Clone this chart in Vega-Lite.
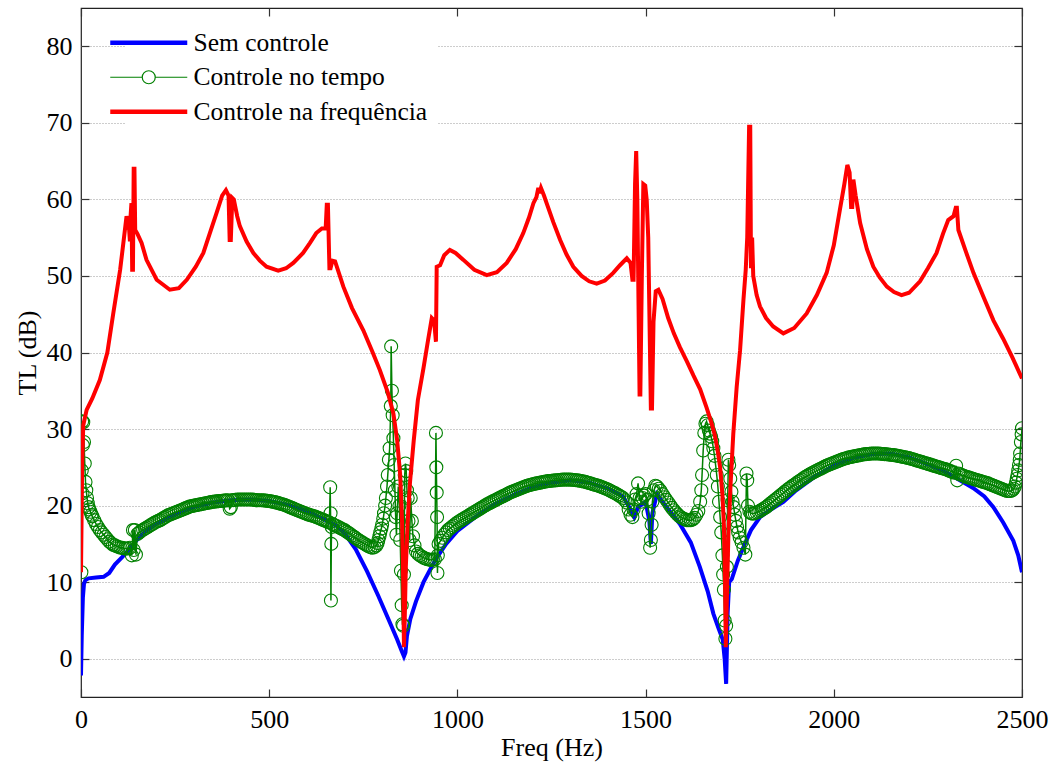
{
"$schema": "https://vega.github.io/schema/vega-lite/v6.json",
"width": 941, "height": 689,
"autosize": {"type": "none"},
"padding": {"left": 81, "top": 8, "right": 30, "bottom": 68},
"background": "white",
"config": {
  "view": {"stroke": "#222", "strokeWidth": 1.2},
  "font": "'Liberation Serif', 'DejaVu Serif', serif",
  "text": {"font": "'Liberation Serif', 'DejaVu Serif', serif"},
  "legend": {"labelFont": "'Liberation Serif', 'DejaVu Serif', serif"},
  "axis": {"labelFont": "'Liberation Serif', 'DejaVu Serif', serif", "titleFont": "'Liberation Serif', 'DejaVu Serif', serif", "labelFontSize": 26, "titleFontSize": 26, "labelColor": "black", "titleColor": "black", "titleFontWeight": "normal", "domain": false, "tickColor": "#333", "tickSize": -8, "tickWidth": 1.2, "labelFlush": false}
},
"datasets": {
"blue": [
{"f":0,"v":-2.2},{"f":2,"v":3},{"f":5,"v":8},{"f":8,"v":9.8},{"f":12,"v":10.3},{"f":20,"v":10.5},{"f":40,"v":10.6},{"f":60,"v":10.7},{"f":75,"v":11.2},{"f":90,"v":12.3},{"f":110,"v":13.3},{"f":130,"v":14.4},{"f":150,"v":15.6},{"f":170,"v":16.6},{"f":200,"v":17.6},{"f":250,"v":18.8},{"f":300,"v":19.8},{"f":350,"v":20.4},{"f":400,"v":20.7},{"f":450,"v":20.8},{"f":500,"v":20.6},{"f":550,"v":20.1},{"f":600,"v":19.3},{"f":650,"v":18.1},{"f":680,"v":17.3},{"f":700,"v":16.4},{"f":730,"v":14.3},{"f":760,"v":11.4},{"f":790,"v":8.2},{"f":820,"v":4.8},{"f":840,"v":2.5},{"f":852,"v":1.0},{"f":858,"v":0.3},{"f":862,"v":0.8},{"f":866,"v":3.0},{"f":875,"v":5.2},{"f":890,"v":7.5},{"f":910,"v":10.0},{"f":940,"v":12.8},{"f":970,"v":15},{"f":1000,"v":16.7},{"f":1050,"v":18.6},{"f":1100,"v":20.2},{"f":1150,"v":21.4},{"f":1200,"v":22.4},{"f":1250,"v":23.0},{"f":1300,"v":23.3},{"f":1350,"v":23.0},{"f":1400,"v":22.2},{"f":1440,"v":21.2},{"f":1460,"v":19.5},{"f":1470,"v":18.5},{"f":1480,"v":19.8},{"f":1500,"v":20.5},{"f":1510,"v":18},{"f":1514,"v":15},{"f":1518,"v":19},{"f":1530,"v":21.5},{"f":1556,"v":19.8},{"f":1591,"v":17.6},{"f":1620,"v":15.2},{"f":1644,"v":12},{"f":1665,"v":8.8},{"f":1680,"v":5.9},{"f":1695,"v":3.8},{"f":1705,"v":2.5},{"f":1710,"v":0},{"f":1714,"v":-3.3},{"f":1718,"v":6},{"f":1722,"v":10},{"f":1729,"v":10.4},{"f":1745,"v":12.8},{"f":1760,"v":14.6},{"f":1780,"v":16.8},{"f":1804,"v":18.5},{"f":1830,"v":19.4},{"f":1866,"v":20.5},{"f":1900,"v":22},{"f":1950,"v":23.8},{"f":2000,"v":25.2},{"f":2050,"v":26.2},{"f":2100,"v":26.7},{"f":2150,"v":26.8},{"f":2200,"v":26.3},{"f":2250,"v":25.4},{"f":2300,"v":24.3},{"f":2335,"v":23.3},{"f":2370,"v":22.3},{"f":2400,"v":21.2},{"f":2424,"v":19.8},{"f":2450,"v":17.8},{"f":2477,"v":15.4},{"f":2490,"v":13.5},{"f":2500,"v":11.3}
],
"green": [
{"f":1,"v":11.3},{"f":2,"v":24.6},{"f":3,"v":31},{"f":4,"v":21.6},{"f":5,"v":27.9},{"f":6,"v":30.9},{"f":8,"v":28.3},{"f":10,"v":25.5},{"f":12,"v":23.1},{"f":14,"v":22},{"f":16,"v":21},{"f":18,"v":20.3},{"f":20,"v":19.8},{"f":22,"v":19.5},{"f":25,"v":19.2},{"f":28,"v":18.8},{"f":30,"v":18.6},{"f":35,"v":18.1},{"f":40,"v":17.6},{"f":45,"v":17.2},{"f":50,"v":16.8},{"f":55,"v":16.5},{"f":60,"v":16.2},{"f":65,"v":15.9},{"f":70,"v":15.6},{"f":75,"v":15.3},{"f":80,"v":15.1},{"f":85,"v":14.9},{"f":90,"v":14.8},{"f":95,"v":14.7},{"f":100,"v":14.6},{"f":105,"v":14.5},{"f":110,"v":14.5},{"f":115,"v":14.4},{"f":120,"v":14.4},{"f":125,"v":14.4},{"f":130,"v":14.5},{"f":135,"v":13.5},{"f":138,"v":16.8},{"f":140,"v":14.2},{"f":143,"v":16.8},{"f":146,"v":13.6},{"f":150,"v":16.3},{"f":155,"v":16.5},{"f":160,"v":16.7},{"f":165,"v":16.85},{"f":170,"v":17},{"f":175,"v":17.15},{"f":180,"v":17.3},{"f":185,"v":17.45},{"f":190,"v":17.6},{"f":195,"v":17.75},{"f":200,"v":17.9},{"f":205,"v":18.0},{"f":210,"v":18.1},{"f":215,"v":18.25},{"f":220,"v":18.4},{"f":225,"v":18.55},{"f":230,"v":18.7},{"f":235,"v":18.8},{"f":240,"v":18.9},{"f":245,"v":19.0},{"f":250,"v":19.1},{"f":255,"v":19.2},{"f":260,"v":19.3},{"f":265,"v":19.4},{"f":270,"v":19.5},{"f":275,"v":19.6},{"f":280,"v":19.7},{"f":285,"v":19.8},{"f":290,"v":19.9},{"f":295,"v":19.95},{"f":300,"v":20},{"f":305,"v":20.05},{"f":310,"v":20.1},{"f":315,"v":20.15},{"f":320,"v":20.2},{"f":325,"v":20.25},{"f":330,"v":20.3},{"f":335,"v":20.35},{"f":340,"v":20.4},{"f":345,"v":20.45},{"f":350,"v":20.5},{"f":355,"v":20.52},{"f":360,"v":20.55},{"f":365,"v":20.58},{"f":370,"v":20.6},{"f":375,"v":20.62},{"f":380,"v":20.65},{"f":385,"v":20.68},{"f":390,"v":20.7},{"f":395,"v":19.6},{"f":398,"v":19.8},{"f":400,"v":20.7},{"f":405,"v":20.72},{"f":410,"v":20.75},{"f":415,"v":20.78},{"f":420,"v":20.8},{"f":425,"v":20.8},{"f":430,"v":20.8},{"f":435,"v":20.8},{"f":440,"v":20.8},{"f":445,"v":20.8},{"f":450,"v":20.8},{"f":455,"v":20.78},{"f":460,"v":20.75},{"f":465,"v":20.72},{"f":470,"v":20.7},{"f":475,"v":20.7},{"f":480,"v":20.7},{"f":485,"v":20.68},{"f":490,"v":20.65},{"f":495,"v":20.62},{"f":500,"v":20.6},{"f":505,"v":20.55},{"f":510,"v":20.5},{"f":515,"v":20.45},{"f":520,"v":20.4},{"f":525,"v":20.32},{"f":530,"v":20.25},{"f":535,"v":20.17},{"f":540,"v":20.1},{"f":545,"v":20.0},{"f":550,"v":19.9},{"f":555,"v":19.8},{"f":560,"v":19.7},{"f":565,"v":19.6},{"f":570,"v":19.5},{"f":575,"v":19.4},{"f":580,"v":19.3},{"f":585,"v":19.2},{"f":590,"v":19.1},{"f":595,"v":19.0},{"f":600,"v":18.9},{"f":605,"v":18.82},{"f":610,"v":18.75},{"f":615,"v":18.68},{"f":620,"v":18.6},{"f":625,"v":18.5},{"f":630,"v":18.4},{"f":635,"v":18.3},{"f":640,"v":18.2},{"f":645,"v":18.1},{"f":650,"v":18},{"f":655,"v":17.9},{"f":660,"v":17.8},{"f":662,"v":22.4},{"f":663,"v":19},{"f":664,"v":7.6},{"f":665,"v":15},{"f":666,"v":17.2},{"f":668,"v":17.6},{"f":671,"v":17.5},{"f":675,"v":17.4},{"f":680,"v":17.3},{"f":685,"v":17.18},{"f":690,"v":17.05},{"f":695,"v":16.92},{"f":700,"v":16.8},{"f":705,"v":16.62},{"f":710,"v":16.45},{"f":715,"v":16.28},{"f":720,"v":16.1},{"f":725,"v":15.92},{"f":730,"v":15.75},{"f":735,"v":15.58},{"f":740,"v":15.4},{"f":745,"v":15.25},{"f":750,"v":15.1},{"f":755,"v":14.95},{"f":760,"v":14.8},{"f":765,"v":14.65},{"f":770,"v":14.55},{"f":775,"v":14.5},{"f":780,"v":14.6},{"f":785,"v":14.8},{"f":788,"v":15.1},{"f":790,"v":15.5},{"f":793,"v":16},{"f":795,"v":16.5},{"f":798,"v":17},{"f":800,"v":17.5},{"f":803,"v":18.3},{"f":805,"v":19},{"f":808,"v":20},{"f":810,"v":21},{"f":813,"v":22.5},{"f":815,"v":24},{"f":818,"v":26},{"f":820,"v":27.5},{"f":823,"v":33},{"f":824,"v":40.8},{"f":826,"v":35},{"f":828,"v":31.8},{"f":830,"v":28.8},{"f":832,"v":25.3},{"f":834,"v":22},{"f":836,"v":18.5},{"f":838,"v":16.2},{"f":840,"v":19},{"f":843,"v":22.5},{"f":846,"v":20},{"f":848,"v":15.5},{"f":850,"v":11.5},{"f":852,"v":7},{"f":854,"v":4.5},{"f":856,"v":4.3},{"f":858,"v":11},{"f":860,"v":24},{"f":862,"v":25.5},{"f":864,"v":24.5},{"f":866,"v":22},{"f":868,"v":21},{"f":870,"v":18},{"f":873,"v":15.5},{"f":876,"v":21},{"f":879,"v":18},{"f":882,"v":16},{"f":886,"v":14.8},{"f":890,"v":14},{"f":895,"v":13.7},{"f":900,"v":13.5},{"f":905,"v":13.35},{"f":910,"v":13.2},{"f":915,"v":13.1},{"f":920,"v":13},{"f":925,"v":12.95},{"f":930,"v":12.9},{"f":935,"v":12.95},{"f":940,"v":13},{"f":943,"v":29.5},{"f":944,"v":25},{"f":945,"v":21.7},{"f":946,"v":18.5},{"f":947,"v":11.2},{"f":948,"v":13.5},{"f":950,"v":15},{"f":955,"v":15.4},{"f":960,"v":15.8},{"f":965,"v":16.2},{"f":970,"v":16.5},{"f":975,"v":16.8},{"f":980,"v":17},{"f":985,"v":17.2},{"f":990,"v":17.4},{"f":995,"v":17.6},{"f":1000,"v":17.8},{"f":1005,"v":17.95},{"f":1010,"v":18.1},{"f":1015,"v":18.25},{"f":1020,"v":18.4},{"f":1025,"v":18.55},{"f":1030,"v":18.7},{"f":1035,"v":18.85},{"f":1040,"v":19},{"f":1045,"v":19.15},{"f":1050,"v":19.3},{"f":1055,"v":19.45},{"f":1060,"v":19.6},{"f":1065,"v":19.75},{"f":1070,"v":19.9},{"f":1075,"v":20.05},{"f":1080,"v":20.2},{"f":1085,"v":20.32},{"f":1090,"v":20.45},{"f":1095,"v":20.58},{"f":1100,"v":20.7},{"f":1105,"v":20.82},{"f":1110,"v":20.95},{"f":1115,"v":21.08},{"f":1120,"v":21.2},{"f":1125,"v":21.32},{"f":1130,"v":21.45},{"f":1135,"v":21.58},{"f":1140,"v":21.7},{"f":1145,"v":21.8},{"f":1150,"v":21.9},{"f":1155,"v":22.0},{"f":1160,"v":22.1},{"f":1165,"v":22.2},{"f":1170,"v":22.3},{"f":1175,"v":22.4},{"f":1180,"v":22.5},{"f":1185,"v":22.58},{"f":1190,"v":22.65},{"f":1195,"v":22.72},{"f":1200,"v":22.8},{"f":1205,"v":22.85},{"f":1210,"v":22.9},{"f":1215,"v":22.95},{"f":1220,"v":23.0},{"f":1225,"v":23.05},{"f":1230,"v":23.1},{"f":1235,"v":23.15},{"f":1240,"v":23.2},{"f":1245,"v":23.22},{"f":1250,"v":23.25},{"f":1255,"v":23.28},{"f":1260,"v":23.3},{"f":1265,"v":23.32},{"f":1270,"v":23.35},{"f":1275,"v":23.38},{"f":1280,"v":23.4},{"f":1285,"v":23.4},{"f":1290,"v":23.4},{"f":1295,"v":23.4},{"f":1300,"v":23.4},{"f":1305,"v":23.38},{"f":1310,"v":23.35},{"f":1315,"v":23.32},{"f":1320,"v":23.3},{"f":1325,"v":23.25},{"f":1330,"v":23.2},{"f":1335,"v":23.15},{"f":1340,"v":23.1},{"f":1345,"v":23.02},{"f":1350,"v":22.95},{"f":1355,"v":22.88},{"f":1360,"v":22.8},{"f":1365,"v":22.72},{"f":1370,"v":22.65},{"f":1375,"v":22.58},{"f":1380,"v":22.5},{"f":1385,"v":22.4},{"f":1390,"v":22.3},{"f":1395,"v":22.2},{"f":1400,"v":22.1},{"f":1405,"v":21.98},{"f":1410,"v":21.85},{"f":1415,"v":21.72},{"f":1420,"v":21.6},{"f":1425,"v":21.45},{"f":1430,"v":21.3},{"f":1435,"v":21.15},{"f":1440,"v":21.0},{"f":1445,"v":20.7},{"f":1450,"v":20.4},{"f":1455,"v":19.5},{"f":1460,"v":18.8},{"f":1465,"v":18.5},{"f":1468,"v":19.5},{"f":1472,"v":20.8},{"f":1476,"v":21.5},{"f":1480,"v":22.9},{"f":1484,"v":21},{"f":1488,"v":20.5},{"f":1492,"v":21},{"f":1496,"v":21.3},{"f":1500,"v":21.5},{"f":1505,"v":20.8},{"f":1508,"v":19},{"f":1512,"v":14.5},{"f":1514,"v":15.5},{"f":1516,"v":17.5},{"f":1518,"v":20.5},{"f":1522,"v":22},{"f":1526,"v":22.6},{"f":1530,"v":22.5},{"f":1535,"v":22.2},{"f":1540,"v":21.9},{"f":1545,"v":21.5},{"f":1550,"v":21.1},{"f":1555,"v":20.75},{"f":1560,"v":20.4},{"f":1565,"v":20.05},{"f":1570,"v":19.7},{"f":1575,"v":19.4},{"f":1580,"v":19.1},{"f":1585,"v":18.85},{"f":1590,"v":18.6},{"f":1595,"v":18.45},{"f":1600,"v":18.3},{"f":1605,"v":18.2},{"f":1610,"v":18.1},{"f":1615,"v":18.1},{"f":1620,"v":18.1},{"f":1625,"v":18.2},{"f":1630,"v":18.4},{"f":1635,"v":18.8},{"f":1640,"v":19.3},{"f":1645,"v":20.5},{"f":1648,"v":22},{"f":1650,"v":24},{"f":1653,"v":27.2},{"f":1656,"v":29.5},{"f":1659,"v":30.7},{"f":1662,"v":31},{"f":1665,"v":30.5},{"f":1668,"v":29.8},{"f":1671,"v":29.4},{"f":1674,"v":29},{"f":1677,"v":28.4},{"f":1680,"v":27.5},{"f":1683,"v":26.5},{"f":1686,"v":25.3},{"f":1689,"v":24},{"f":1692,"v":22.5},{"f":1695,"v":20.5},{"f":1698,"v":18.5},{"f":1701,"v":16.5},{"f":1704,"v":13.5},{"f":1706,"v":11},{"f":1708,"v":9},{"f":1710,"v":5},{"f":1712,"v":2.6},{"f":1714,"v":4.3},{"f":1716,"v":12},{"f":1718,"v":20.7},{"f":1720,"v":26},{"f":1722,"v":25.3},{"f":1725,"v":23.5},{"f":1728,"v":21.8},{"f":1731,"v":20.5},{"f":1734,"v":19.8},{"f":1737,"v":18.8},{"f":1740,"v":18},{"f":1743,"v":17.2},{"f":1746,"v":16.5},{"f":1750,"v":15.8},{"f":1755,"v":15.2},{"f":1760,"v":14.5},{"f":1765,"v":13.6},{"f":1768,"v":24.2},{"f":1770,"v":23.3},{"f":1772,"v":20},{"f":1776,"v":19.2},{"f":1780,"v":19},{"f":1785,"v":18.95},{"f":1790,"v":19},{"f":1795,"v":19.1},{"f":1800,"v":19.2},{"f":1805,"v":19.35},{"f":1810,"v":19.5},{"f":1815,"v":19.65},{"f":1820,"v":19.8},{"f":1825,"v":20.0},{"f":1830,"v":20.2},{"f":1835,"v":20.4},{"f":1840,"v":20.6},{"f":1845,"v":20.8},{"f":1850,"v":21},{"f":1855,"v":21.2},{"f":1860,"v":21.4},{"f":1865,"v":21.6},{"f":1870,"v":21.8},{"f":1875,"v":22.0},{"f":1880,"v":22.2},{"f":1885,"v":22.38},{"f":1890,"v":22.55},{"f":1895,"v":22.72},{"f":1900,"v":22.9},{"f":1905,"v":23.08},{"f":1910,"v":23.25},{"f":1915,"v":23.42},{"f":1920,"v":23.6},{"f":1925,"v":23.75},{"f":1930,"v":23.9},{"f":1935,"v":24.05},{"f":1940,"v":24.2},{"f":1945,"v":24.32},{"f":1950,"v":24.45},{"f":1955,"v":24.58},{"f":1960,"v":24.7},{"f":1965,"v":24.82},{"f":1970,"v":24.95},{"f":1975,"v":25.08},{"f":1980,"v":25.2},{"f":1985,"v":25.3},{"f":1990,"v":25.4},{"f":1995,"v":25.5},{"f":2000,"v":25.6},{"f":2005,"v":25.7},{"f":2010,"v":25.8},{"f":2015,"v":25.9},{"f":2020,"v":26},{"f":2025,"v":26.08},{"f":2030,"v":26.15},{"f":2035,"v":26.22},{"f":2040,"v":26.3},{"f":2045,"v":26.35},{"f":2050,"v":26.4},{"f":2055,"v":26.45},{"f":2060,"v":26.5},{"f":2065,"v":26.55},{"f":2070,"v":26.6},{"f":2075,"v":26.65},{"f":2080,"v":26.7},{"f":2085,"v":26.72},{"f":2090,"v":26.75},{"f":2095,"v":26.78},{"f":2100,"v":26.8},{"f":2105,"v":26.8},{"f":2110,"v":26.8},{"f":2115,"v":26.8},{"f":2120,"v":26.8},{"f":2125,"v":26.78},{"f":2130,"v":26.75},{"f":2135,"v":26.72},{"f":2140,"v":26.7},{"f":2145,"v":26.68},{"f":2150,"v":26.65},{"f":2155,"v":26.62},{"f":2160,"v":26.6},{"f":2165,"v":26.55},{"f":2170,"v":26.5},{"f":2175,"v":26.45},{"f":2180,"v":26.4},{"f":2185,"v":26.35},{"f":2190,"v":26.3},{"f":2195,"v":26.25},{"f":2200,"v":26.2},{"f":2205,"v":26.12},{"f":2210,"v":26.05},{"f":2215,"v":25.98},{"f":2220,"v":25.9},{"f":2225,"v":25.82},{"f":2230,"v":25.75},{"f":2235,"v":25.68},{"f":2240,"v":25.6},{"f":2245,"v":25.52},{"f":2250,"v":25.45},{"f":2255,"v":25.38},{"f":2260,"v":25.3},{"f":2265,"v":25.22},{"f":2270,"v":25.15},{"f":2275,"v":25.08},{"f":2280,"v":25},{"f":2285,"v":24.92},{"f":2290,"v":24.85},{"f":2295,"v":24.78},{"f":2300,"v":24.7},{"f":2305,"v":24.6},{"f":2310,"v":24.5},{"f":2315,"v":24.4},{"f":2320,"v":24.3},{"f":2325,"v":25.2},{"f":2328,"v":23.3},{"f":2331,"v":24.2},{"f":2335,"v":24.1},{"f":2340,"v":24},{"f":2345,"v":23.9},{"f":2350,"v":23.8},{"f":2355,"v":23.72},{"f":2360,"v":23.65},{"f":2365,"v":23.58},{"f":2370,"v":23.5},{"f":2375,"v":23.42},{"f":2380,"v":23.35},{"f":2385,"v":23.28},{"f":2390,"v":23.2},{"f":2395,"v":23.12},{"f":2400,"v":23.05},{"f":2405,"v":22.98},{"f":2410,"v":22.9},{"f":2415,"v":22.8},{"f":2420,"v":22.7},{"f":2425,"v":22.6},{"f":2430,"v":22.5},{"f":2435,"v":22.4},{"f":2440,"v":22.3},{"f":2445,"v":22.2},{"f":2450,"v":22.1},{"f":2455,"v":22},{"f":2460,"v":21.9},{"f":2465,"v":21.9},{"f":2470,"v":21.9},{"f":2474,"v":22},{"f":2478,"v":22.2},{"f":2481,"v":22.5},{"f":2484,"v":23},{"f":2486,"v":23.5},{"f":2488,"v":24},{"f":2490,"v":24.6},{"f":2492,"v":25.3},{"f":2494,"v":26},{"f":2495,"v":26.8},{"f":2497,"v":28.3},{"f":2499,"v":29.3},{"f":2500,"v":30.1}
],
"red": [
{"f":0,"v":11.3},{"f":3,"v":25},{"f":6,"v":30.5},{"f":15,"v":32.5},{"f":30,"v":34},{"f":50,"v":36.4},{"f":70,"v":40},{"f":86,"v":45.2},{"f":104,"v":50.8},{"f":121,"v":57.8},{"f":128,"v":56},{"f":130,"v":54.5},{"f":132,"v":58},{"f":134,"v":59.5},{"f":136,"v":50.8},{"f":138,"v":50.8},{"f":140,"v":64},{"f":142,"v":64},{"f":144,"v":56},{"f":150,"v":55.5},{"f":161,"v":54.3},{"f":174,"v":52.1},{"f":201,"v":49.5},{"f":236,"v":48.2},{"f":260,"v":48.4},{"f":281,"v":49.5},{"f":305,"v":51.2},{"f":325,"v":53},{"f":345,"v":56},{"f":360,"v":58.2},{"f":375,"v":60.5},{"f":385,"v":61.2},{"f":392,"v":60.5},{"f":395,"v":54.7},{"f":398,"v":54.7},{"f":402,"v":60.2},{"f":406,"v":60},{"f":415,"v":57.8},{"f":422,"v":56.5},{"f":440,"v":54.5},{"f":458,"v":53},{"f":475,"v":52},{"f":493,"v":51.2},{"f":524,"v":50.7},{"f":545,"v":51},{"f":564,"v":51.7},{"f":590,"v":53},{"f":608,"v":54.3},{"f":625,"v":55.6},{"f":640,"v":56.2},{"f":650,"v":56.2},{"f":653,"v":59.3},{"f":656,"v":59.3},{"f":660,"v":51},{"f":663,"v":51},{"f":668,"v":52},{"f":675,"v":51.9},{"f":697,"v":48.6},{"f":720,"v":45.8},{"f":750,"v":42.9},{"f":775,"v":40},{"f":794,"v":37.7},{"f":815,"v":34.8},{"f":830,"v":32},{"f":840,"v":28.5},{"f":848,"v":24},{"f":853,"v":18},{"f":856,"v":10},{"f":858,"v":1.5},{"f":860,"v":5},{"f":863,"v":12},{"f":868,"v":18},{"f":874,"v":23},{"f":884,"v":28.5},{"f":895,"v":33.8},{"f":910,"v":38},{"f":922,"v":41.6},{"f":932,"v":44.5},{"f":938,"v":44.2},{"f":943,"v":41.4},{"f":945,"v":51.2},{"f":954,"v":51.4},{"f":965,"v":52.7},{"f":980,"v":53.4},{"f":995,"v":53},{"f":1016,"v":52.1},{"f":1045,"v":50.8},{"f":1078,"v":50.1},{"f":1105,"v":50.5},{"f":1131,"v":51.7},{"f":1155,"v":53.5},{"f":1175,"v":55.6},{"f":1190,"v":57.6},{"f":1202,"v":59.5},{"f":1210,"v":60.3},{"f":1215,"v":61.5},{"f":1218,"v":60.8},{"f":1222,"v":61.5},{"f":1230,"v":60.5},{"f":1237,"v":59.5},{"f":1255,"v":57},{"f":1273,"v":54.7},{"f":1290,"v":52.8},{"f":1308,"v":51.2},{"f":1330,"v":50},{"f":1350,"v":49.3},{"f":1370,"v":49},{"f":1392,"v":49.4},{"f":1414,"v":50.4},{"f":1432,"v":51.4},{"f":1450,"v":52.3},{"f":1460,"v":51.7},{"f":1465,"v":49.5},{"f":1468,"v":49.5},{"f":1472,"v":62},{"f":1475,"v":66.3},{"f":1478,"v":60},{"f":1484,"v":34.5},{"f":1486,"v":34.5},{"f":1490,"v":50},{"f":1494,"v":62},{"f":1499,"v":61.8},{"f":1503,"v":59.9},{"f":1507,"v":55},{"f":1514,"v":32.7},{"f":1517,"v":32.7},{"f":1521,"v":44},{"f":1527,"v":48},{"f":1534,"v":48.2},{"f":1545,"v":47},{"f":1560,"v":44.5},{"f":1575,"v":42.5},{"f":1591,"v":40.7},{"f":1610,"v":38.8},{"f":1627,"v":37},{"f":1645,"v":35.2},{"f":1662,"v":32.8},{"f":1675,"v":30.8},{"f":1684,"v":29.2},{"f":1692,"v":27},{"f":1698,"v":25},{"f":1704,"v":21.5},{"f":1708,"v":17.5},{"f":1711,"v":10},{"f":1713,"v":1.5},{"f":1716,"v":8},{"f":1720,"v":16.3},{"f":1726,"v":23},{"f":1733,"v":29.4},{"f":1742,"v":35.5},{"f":1751,"v":40.3},{"f":1760,"v":46.9},{"f":1766,"v":50.8},{"f":1770,"v":55},{"f":1775,"v":69.5},{"f":1778,"v":69.5},{"f":1780,"v":51},{"f":1783,"v":55},{"f":1786,"v":50},{"f":1795,"v":47.5},{"f":1804,"v":46},{"f":1820,"v":44.5},{"f":1839,"v":43.4},{"f":1866,"v":42.5},{"f":1895,"v":43.2},{"f":1928,"v":45.1},{"f":1955,"v":47.5},{"f":1981,"v":50.4},{"f":2000,"v":54},{"f":2016,"v":58.6},{"f":2028,"v":62},{"f":2036,"v":64.5},{"f":2042,"v":63.5},{"f":2046,"v":59},{"f":2049,"v":59},{"f":2052,"v":62.6},{"f":2058,"v":60.5},{"f":2070,"v":56.9},{"f":2088,"v":53.5},{"f":2105,"v":51.2},{"f":2122,"v":49.8},{"f":2141,"v":48.6},{"f":2160,"v":47.9},{"f":2180,"v":47.5},{"f":2200,"v":47.8},{"f":2229,"v":49.3},{"f":2250,"v":51},{"f":2273,"v":53},{"f":2290,"v":55.5},{"f":2304,"v":57.3},{"f":2318,"v":57.8},{"f":2324,"v":58.9},{"f":2327,"v":58.9},{"f":2331,"v":56},{"f":2350,"v":53.3},{"f":2371,"v":50.4},{"f":2400,"v":47},{"f":2424,"v":44.2},{"f":2450,"v":41.8},{"f":2475,"v":39.3},{"f":2500,"v":36.6}
]
},
"layer": [
{
  "data": {"name": "blue"},
  "mark": {"type": "line", "strokeWidth": 4, "clip": true},
  "encoding": {
    "x": {"field": "f", "type": "quantitative", "scale": {"domain": [0, 2500], "nice": false, "zero": false},
          "axis": {"orient": "bottom", "values": [0, 500, 1000, 1500, 2000, 2500], "format": "d", "title": "Freq (Hz)", "grid": false, "labelPadding": 17, "titlePadding": 2, "labelFlush": false}},
    "y": {"field": "v", "type": "quantitative", "scale": {"domain": [-5, 85], "nice": false, "zero": false},
          "axis": {"orient": "left", "values": [0, 10, 20, 30, 40, 50, 60, 70, 80], "format": "d", "title": "TL (dB)", "grid": true, "gridDash": [1, 2], "gridColor": "#9a9a9a", "gridWidth": 1, "labelPadding": 17, "titlePadding": 6, "labelFlush": false}},
    "color": {"datum": "Sem controle", "type": "nominal",
      "scale": {"domain": ["Sem controle", "Controle no tempo", "Controle na frequência"], "range": ["#0000ff", "#008000", "#ff0000"]},
      "legend": {"title": null, "orient": "none", "legendX": 45, "legendY": 12, "padding": 10, "fillColor": "white", "strokeColor": null,
        "labelFont": "'Liberation Serif', 'DejaVu Serif', serif", "labelFontSize": 25.5, "labelColor": "black", "labelLimit": 500, "labelOffset": 32,
        "symbolSize": 400, "rowPadding": 7.5,
        "encode": {"symbols": {"update": {
          "shape": {"signal": "datum.value === 'Controle no tempo' ? 'M-3.85,0L-0.65,0M0.65,0L3.85,0M0.65,0A0.65,0.65,0,1,1,-0.65,0A0.65,0.65,0,1,1,0.65,0' : 'M-3.85,0L3.85,0'"},
          "strokeWidth": {"signal": "datum.value === 'Controle no tempo' ? 1.2 : 4.5"},
          "fill": {"value": "transparent"},
          "opacity": {"value": 1}
        }}}}
    }
  }
},
{
  "data": {"name": "green"},
  "mark": {"type": "line", "strokeWidth": 1.5, "clip": true},
  "encoding": {
    "x": {"field": "f", "type": "quantitative", "axis": null},
    "y": {"field": "v", "type": "quantitative", "axis": null},
    "color": {"datum": "Controle no tempo", "type": "nominal"}
  }
},
{
  "data": {"name": "green"},
  "mark": {"type": "point", "shape": "circle", "filled": false, "size": 169, "strokeWidth": 1.1, "opacity": 1, "clip": true},
  "encoding": {
    "x": {"field": "f", "type": "quantitative", "axis": null},
    "y": {"field": "v", "type": "quantitative", "axis": null},
    "color": {"datum": "Controle no tempo", "type": "nominal"}
  }
},
{
  "data": {"name": "red"},
  "mark": {"type": "line", "strokeWidth": 4, "clip": true},
  "encoding": {
    "x": {"field": "f", "type": "quantitative", "axis": null},
    "y": {"field": "v", "type": "quantitative", "axis": null},
    "color": {"datum": "Controle na frequência", "type": "nominal"}
  }
},
{
  "data": {"values": [{"f": 0, "v": 0}]},
  "mark": {"type": "point", "opacity": 0},
  "encoding": {
    "x": {"field": "f", "type": "quantitative", "axis": {"orient": "top", "labels": false, "title": null, "grid": false, "values": [0, 500, 1000, 1500, 2000, 2500]}},
    "y": {"field": "v", "type": "quantitative", "axis": {"orient": "right", "labels": false, "title": null, "grid": false, "values": [0, 10, 20, 30, 40, 50, 60, 70, 80]}}
  }
}
],
"resolve": {"axis": {"x": "independent", "y": "independent"}}
}
